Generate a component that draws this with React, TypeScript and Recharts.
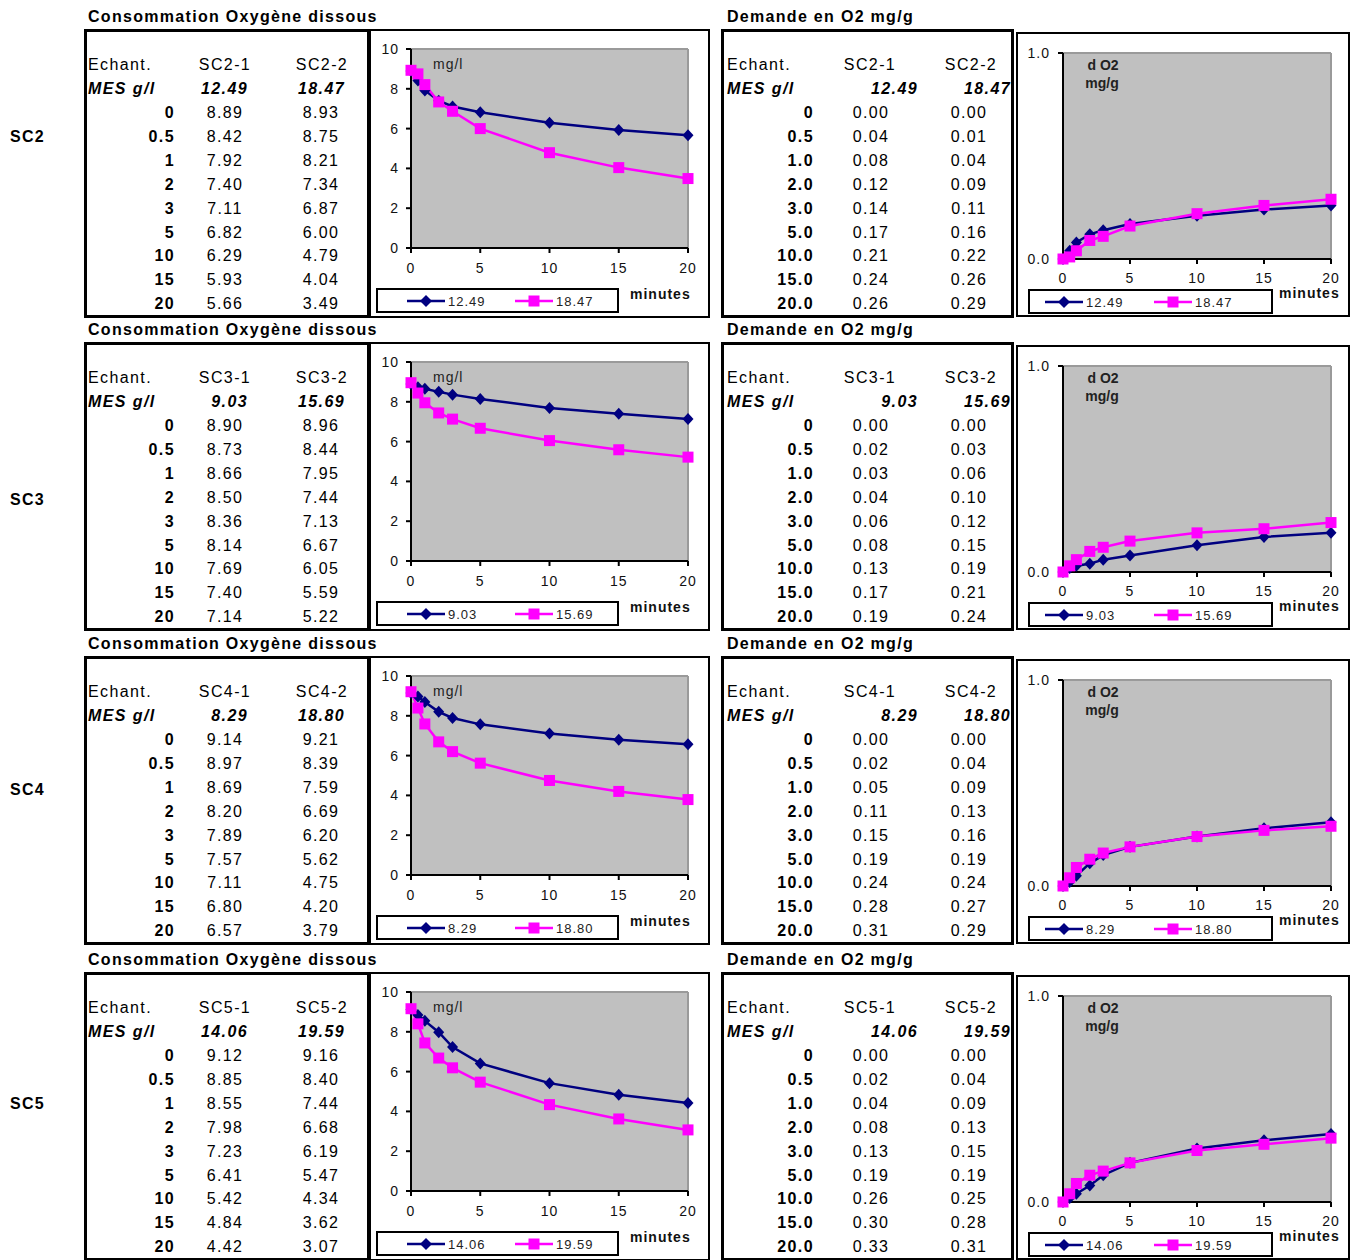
import React from "react";
import { LineChart, Line, XAxis, YAxis, CartesianGrid, ReferenceLine } from "recharts";

const FONT = "Arial, 'Liberation Sans', sans-serif";
const NAVY = "#000080";
const MAGENTA = "#ff00ff";

// sampling times (minutes) and the row labels of both tables
const minutes = [0, 0.5, 1, 2, 3, 5, 10, 15, 20];
const o2TimeLabels = ["0", "0.5", "1", "2", "3", "5", "10", "15", "20"];
const demandTimeLabels = ["0", "0.5", "1.0", "2.0", "3.0", "5.0", "10.0", "15.0", "20.0"];
const xTicks = [0, 5, 10, 15, 20];
const o2Ticks = [0, 2, 4, 6, 8, 10];
const demandTicks = [0, 1];

const sites = ["SC2", "SC3", "SC4", "SC5"];
const mes1 = [12.49, 9.03, 8.29, 14.06];
const mes2 = [18.47, 15.69, 18.8, 19.59];

// dissolved oxygen, mg/l
const sc2O2a = [8.89, 8.42, 7.92, 7.4, 7.11, 6.82, 6.29, 5.93, 5.66];
const sc2O2b = [8.93, 8.75, 8.21, 7.34, 6.87, 6.0, 4.79, 4.04, 3.49];
const sc3O2a = [8.9, 8.73, 8.66, 8.5, 8.36, 8.14, 7.69, 7.4, 7.14];
const sc3O2b = [8.96, 8.44, 7.95, 7.44, 7.13, 6.67, 6.05, 5.59, 5.22];
const sc4O2a = [9.14, 8.97, 8.69, 8.2, 7.89, 7.57, 7.11, 6.8, 6.57];
const sc4O2b = [9.21, 8.39, 7.59, 6.69, 6.2, 5.62, 4.75, 4.2, 3.79];
const sc5O2a = [9.12, 8.85, 8.55, 7.98, 7.23, 6.41, 5.42, 4.84, 4.42];
const sc5O2b = [9.16, 8.4, 7.44, 6.68, 6.19, 5.47, 4.34, 3.62, 3.07];

// oxygen demand, mg/g
const sc2Da = [0.0, 0.04, 0.08, 0.12, 0.14, 0.17, 0.21, 0.24, 0.26];
const sc2Db = [0.0, 0.01, 0.04, 0.09, 0.11, 0.16, 0.22, 0.26, 0.29];
const sc3Da = [0.0, 0.02, 0.03, 0.04, 0.06, 0.08, 0.13, 0.17, 0.19];
const sc3Db = [0.0, 0.03, 0.06, 0.1, 0.12, 0.15, 0.19, 0.21, 0.24];
const sc4Da = [0.0, 0.02, 0.05, 0.11, 0.15, 0.19, 0.24, 0.28, 0.31];
const sc4Db = [0.0, 0.04, 0.09, 0.13, 0.16, 0.19, 0.24, 0.27, 0.29];
const sc5Da = [0.0, 0.02, 0.04, 0.08, 0.13, 0.19, 0.26, 0.3, 0.33];
const sc5Db = [0.0, 0.04, 0.09, 0.13, 0.15, 0.19, 0.25, 0.28, 0.31];

const o2A = [sc2O2a, sc3O2a, sc4O2a, sc5O2a];
const o2B = [sc2O2b, sc3O2b, sc4O2b, sc5O2b];
const dA = [sc2Da, sc3Da, sc4Da, sc5Da];
const dB = [sc2Db, sc3Db, sc4Db, sc5Db];

const rowTops = [0, 313, 627, 943];
const siteLabelY = [137, 500, 790, 1104];

const toRows = (a: number[], b: number[]) => minutes.map((t, i) => ({ t, a: a[i], b: b[i] }));

const diamond = (p: any) => {
  const { cx, cy, index } = p;
  if (cx == null || cy == null) return <g key={`d${index}`} />;
  return (
    <path
      key={`d${index}`}
      d={`M${cx},${cy - 6}L${cx + 5.5},${cy}L${cx},${cy + 6}L${cx - 5.5},${cy}Z`}
      fill={NAVY}
    />
  );
};

const square = (p: any) => {
  const { cx, cy, index } = p;
  if (cx == null || cy == null) return <g key={`s${index}`} />;
  return <rect key={`s${index}`} x={cx - 5.5} y={cy - 5.5} width={11} height={11} fill={MAGENTA} />;
};

function Txt({ x, y, align = "left", style, children }: any) {
  const tx = align === "left" ? "0" : align === "right" ? "-100%" : "-50%";
  return (
    <div
      style={{
        position: "absolute",
        left: x,
        top: y,
        transform: `translate(${tx}, -50%)`,
        whiteSpace: "nowrap",
        lineHeight: 1,
        fontFamily: FONT,
        ...style,
      }}
    >
      {children}
    </div>
  );
}

const cell = { fontSize: 16, letterSpacing: 1.4, color: "#000" };
const bold = { ...cell, fontWeight: "bold" };
const boldItalic = { ...bold, fontStyle: "italic" };

function Box({ left, top, width, height, border = 3 }: any) {
  return (
    <div
      style={{
        position: "absolute",
        left,
        top,
        width,
        height,
        border: `${border}px solid #000`,
        boxSizing: "border-box",
      }}
    />
  );
}

function LegendBox({ left, top, width, labels, x1, x2 }: any) {
  return (
    <div
      style={{
        position: "absolute",
        left,
        top,
        width,
        height: 25,
        border: "2px solid #000",
        boxSizing: "border-box",
        background: "#fff",
      }}
    >
      <svg width={width - 4} height={21} style={{ position: "absolute", left: 0, top: 0 }}>
        <line x1={x1} x2={x1 + 38} y1={11} y2={11} stroke={NAVY} strokeWidth={2.5} />
        <path d={`M${x1 + 19},${5}L${x1 + 25},${11}L${x1 + 19},${17}L${x1 + 13},${11}Z`} fill={NAVY} />
        <text x={x1 + 41} y={16} fontSize={13} fontFamily={FONT} fill="#222" style={{ letterSpacing: 1 }}>
          {labels[0]}
        </text>
        <line x1={x2} x2={x2 + 38} y1={11} y2={11} stroke={MAGENTA} strokeWidth={2.5} />
        <rect x={x2 + 13.5} y={5.5} width={11} height={11} fill={MAGENTA} />
        <text x={x2 + 41} y={16} fontSize={13} fontFamily={FONT} fill="#222" style={{ letterSpacing: 1 }}>
          {labels[1]}
        </text>
      </svg>
    </div>
  );
}

const tickStyle = { fill: "#111", fontSize: 14, fontFamily: FONT, letterSpacing: 1 };
const axisLine = { stroke: "#000", strokeWidth: 2 };
const tickLine = { stroke: "#000", strokeWidth: 2 };

function O2Chart({ data, top }: any) {
  return (
    <div style={{ position: "absolute", left: 371, top }}>
      <LineChart width={337} height={285} data={data} margin={{ top: 18, right: 20, left: 0, bottom: 0 }}>
        <CartesianGrid fill="#c0c0c0" stroke="none" horizontal={false} vertical={false} />
        <ReferenceLine y={10} stroke="#9a9a9a" strokeWidth={2} />
        <ReferenceLine x={20} stroke="#9a9a9a" strokeWidth={2} />
        <XAxis
          dataKey="t"
          type="number"
          domain={[0, 20]}
          ticks={xTicks}
          interval={0}
          height={68}
          axisLine={axisLine}
          tickLine={tickLine}
          tickSize={5}
          tickMargin={10}
          tick={tickStyle}
        />
        <YAxis
          type="number"
          domain={[0, 10]}
          ticks={o2Ticks}
          interval={0}
          width={40}
          axisLine={axisLine}
          tickLine={tickLine}
          tickSize={5}
          tickMargin={7}
          tick={tickStyle}
        />
        <Line dataKey="a" stroke={NAVY} strokeWidth={2.5} dot={diamond} isAnimationActive={false} />
        <Line dataKey="b" stroke={MAGENTA} strokeWidth={2.5} dot={square} isAnimationActive={false} />
      </LineChart>
    </div>
  );
}

function DemandChart({ data, top }: any) {
  return (
    <div style={{ position: "absolute", left: 1018, top }}>
      <LineChart width={329} height={280} data={data} margin={{ top: 19, right: 16, left: 0, bottom: 0 }}>
        <CartesianGrid fill="#c0c0c0" stroke="none" horizontal={false} vertical={false} />
        <ReferenceLine y={1} stroke="#9a9a9a" strokeWidth={2} />
        <ReferenceLine x={20} stroke="#9a9a9a" strokeWidth={2} />
        <XAxis
          dataKey="t"
          type="number"
          domain={[0, 20]}
          ticks={xTicks}
          interval={0}
          height={55}
          axisLine={axisLine}
          tickLine={tickLine}
          tickSize={5}
          tickMargin={9}
          tick={tickStyle}
        />
        <YAxis
          type="number"
          domain={[0, 1]}
          ticks={demandTicks}
          interval={0}
          width={45}
          axisLine={axisLine}
          tickLine={tickLine}
          tickSize={5}
          tickMargin={8}
          tick={tickStyle}
          tickFormatter={(v: number) => v.toFixed(1)}
        />
        <Line dataKey="a" stroke={NAVY} strokeWidth={2.5} dot={diamond} isAnimationActive={false} />
        <Line dataKey="b" stroke={MAGENTA} strokeWidth={2.5} dot={square} isAnimationActive={false} />
      </LineChart>
    </div>
  );
}

function SiteRow({ i }: any) {
  const b = rowTops[i];
  const site = sites[i];
  const m = [mes1[i].toFixed(2), mes2[i].toFixed(2)];
  return (
    <>
      <Txt x={10} y={siteLabelY[i]} style={{ ...bold, letterSpacing: 1.3 }}>
        {site}
      </Txt>

      {/* dissolved oxygen table */}
      <Txt x={88} y={b + 17} style={{ ...bold, letterSpacing: 1.3 }}>
        Consommation Oxygène dissous
      </Txt>
      <Box left={84} top={b + 29} width={286} height={289} />
      <Txt x={88} y={b + 65} style={cell}>Echant.</Txt>
      <Txt x={225} y={b + 65} align="center" style={cell}>{`${site}-1`}</Txt>
      <Txt x={322} y={b + 65} align="center" style={cell}>{`${site}-2`}</Txt>
      <Txt x={88} y={b + 89} style={boldItalic}>MES g/l</Txt>
      <Txt x={248} y={b + 89} align="right" style={boldItalic}>{m[0]}</Txt>
      <Txt x={345} y={b + 89} align="right" style={boldItalic}>{m[1]}</Txt>
      {o2TimeLabels.map((lab, k) => (
        <React.Fragment key={lab}>
          <Txt x={175} y={b + 113 + k * 23.9} align="right" style={bold}>{lab}</Txt>
          <Txt x={225} y={b + 113 + k * 23.9} align="center" style={cell}>{o2A[i][k].toFixed(2)}</Txt>
          <Txt x={321} y={b + 113 + k * 23.9} align="center" style={cell}>{o2B[i][k].toFixed(2)}</Txt>
        </React.Fragment>
      ))}

      {/* dissolved oxygen chart */}
      <Box left={369} top={b + 29} width={341} height={289} border={2} />
      <O2Chart data={toRows(o2A[i], o2B[i])} top={b + 31} />
      <Txt x={433} y={b + 64} style={{ fontSize: 14, letterSpacing: 1, color: "#222" }}>mg/l</Txt>
      <LegendBox left={376} top={b + 288} width={243} labels={m} x1={29} x2={137} />
      <Txt x={630} y={b + 294} style={{ fontSize: 14, letterSpacing: 1, fontWeight: "bold", color: "#111" }}>
        minutes
      </Txt>

      {/* oxygen demand table */}
      <Txt x={727} y={b + 17} style={{ ...bold, letterSpacing: 1.3 }}>
        Demande en O2 mg/g
      </Txt>
      <Box left={721} top={b + 29} width={293} height={289} />
      <Txt x={727} y={b + 65} style={cell}>Echant.</Txt>
      <Txt x={870} y={b + 65} align="center" style={cell}>{`${site}-1`}</Txt>
      <Txt x={971} y={b + 65} align="center" style={cell}>{`${site}-2`}</Txt>
      <Txt x={727} y={b + 89} style={boldItalic}>MES g/l</Txt>
      <Txt x={918} y={b + 89} align="right" style={boldItalic}>{m[0]}</Txt>
      <Txt x={1011} y={b + 89} align="right" style={boldItalic}>{m[1]}</Txt>
      {demandTimeLabels.map((lab, k) => (
        <React.Fragment key={lab}>
          <Txt x={814} y={b + 113 + k * 23.9} align="right" style={bold}>{lab}</Txt>
          <Txt x={871} y={b + 113 + k * 23.9} align="center" style={cell}>{dA[i][k].toFixed(2)}</Txt>
          <Txt x={969} y={b + 113 + k * 23.9} align="center" style={cell}>{dB[i][k].toFixed(2)}</Txt>
        </React.Fragment>
      ))}

      {/* oxygen demand chart */}
      <Box left={1016} top={b + 32} width={334} height={285} border={2} />
      <DemandChart data={toRows(dA[i], dB[i])} top={b + 34} />
      <Txt x={1103} y={b + 65} align="center" style={{ fontSize: 14, fontWeight: "bold", color: "#222" }}>
        d O2
      </Txt>
      <Txt x={1102} y={b + 83} align="center" style={{ fontSize: 14, fontWeight: "bold", color: "#222" }}>
        mg/g
      </Txt>
      <LegendBox left={1028} top={b + 289} width={245} labels={m} x1={15} x2={124} />
      <Txt x={1279} y={b + 293} style={{ fontSize: 14, letterSpacing: 1, fontWeight: "bold", color: "#111" }}>
        minutes
      </Txt>
    </>
  );
}

export default function App() {
  return (
    <div
      style={{
        position: "absolute",
        left: 0,
        top: 0,
        width: 1356,
        height: 1260,
        overflow: "hidden",
        background: "#fff",
        fontFamily: FONT,
      }}
    >
      {sites.map((s, i) => (
        <SiteRow key={s} i={i} />
      ))}
    </div>
  );
}
